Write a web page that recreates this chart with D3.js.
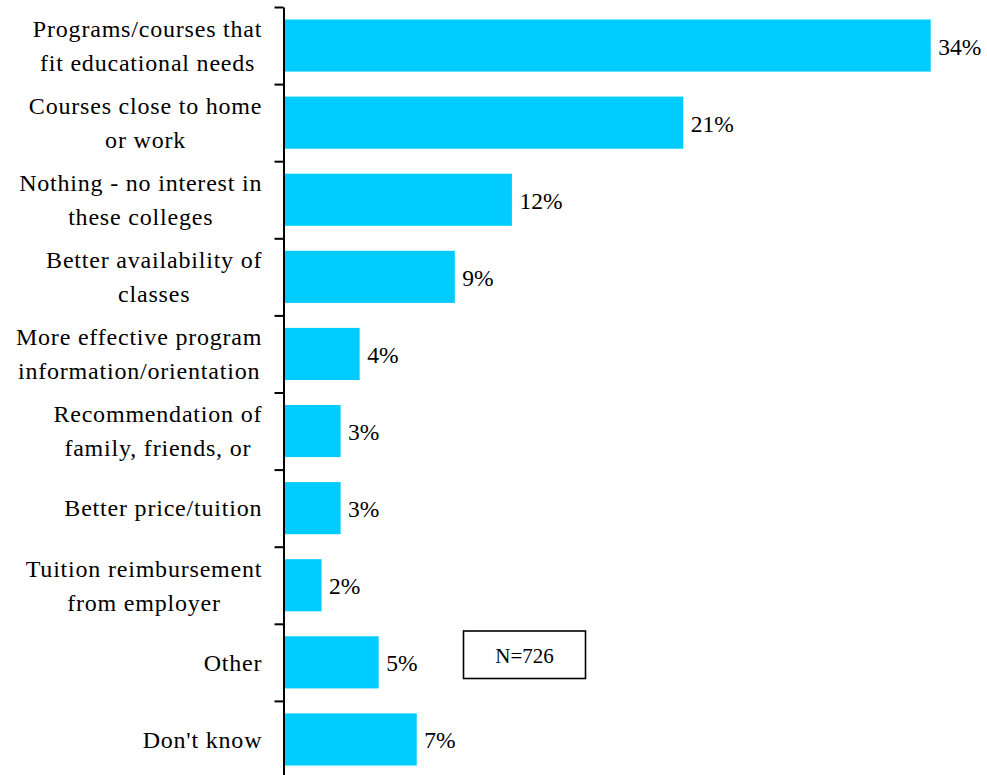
<!DOCTYPE html>
<html>
<head>
<meta charset="utf-8">
<script src="https://cdn.jsdelivr.net/npm/d3@7/dist/d3.min.js"></script>
</head>
<body style="margin:0">
<svg id="chart" width="987" height="775" font-family="Liberation Serif"></svg>
<script>
// Category labels, one entry per line of wrapped text
const categories = [
  ["Programs/courses that", "fit educational needs"],
  ["Courses close to home", "or work"],
  ["Nothing - no interest in", "these colleges"],
  ["Better availability of", "classes"],
  ["More effective program", "information/orientation"],
  ["Recommendation of", "family, friends, or"],
  ["Better price/tuition"],
  ["Tuition reimbursement", "from employer"],
  ["Other"],
  ["Don't know"]
];
// Share of respondents, percent
const values = [34, 21, 12, 9, 4, 3, 3, 2, 5, 7];
const sampleNote = "N=726";

const serifFace = "Liberation Serif";
const svg = d3.select("#chart");
const ids = d3.range(categories.length);

const axisX = 283.5;
const plotTop = 7, plotBottom = 778;

const x = d3.scaleLinear().domain([0, 34]).range([axisX, 930.7]);
const y = d3.scaleBand().domain(ids).range([plotTop, plotBottom])
  .paddingInner(0.324).paddingOuter(0.162);

// Boundary ticks between categories
const yEdge = d3.scaleLinear().domain([0, categories.length]).range([plotTop, plotBottom]);

// Bars
svg.append("g").selectAll("rect")
  .data(ids)
  .join("rect")
  .attr("x", x(0))
  .attr("y", i => y(i))
  .attr("width", i => x(values[i]) - x(0))
  .attr("height", y.bandwidth())
  .attr("fill", "#00CCFF");

// Value labels
svg.append("g").selectAll("text")
  .data(ids)
  .join("text")
  .attr("x", i => x(values[i]) + 7.5)
  .attr("y", i => y(i) + y.bandwidth() / 2 + 9)
  .attr("font-family", serifFace)
  .style("font-family", serifFace)
  .attr("font-size", "23.5px")
  .attr("fill", "#000")
  .text(i => values[i] + "%");

// Axis
const axis = svg.append("g")
  .attr("transform", `translate(${axisX},0)`)
  .call(d3.axisLeft(yEdge).tickValues(d3.range(categories.length + 1))
    .tickFormat("").tickSize(9).tickSizeOuter(0));
axis.selectAll("path, line").attr("stroke", "#000").attr("stroke-width", 2);

// Category labels: lines centred on each other, block right-aligned
const spacing = 0.8;
const labelRight = 261.5 + spacing;
const lineGap = 34;
const labels = svg.append("g");
ids.forEach(i => {
  const lines = categories[i];
  const cy = y(i) + y.bandwidth() / 2 + 8.3;
  const g = labels.append("g");
  const ts = lines.map((s, k) => g.append("text")
    .attr("font-family", serifFace)
    .style("font-family", serifFace)
    .attr("font-size", "24px")
    .attr("letter-spacing", spacing + "px")
    .attr("fill", "#000")
    .attr("text-anchor", "middle")
    .attr("y", cy + (k - (lines.length - 1) / 2) * lineGap)
    .text(s));
  const w = d3.max(ts, t => t.node().getComputedTextLength());
  ts.forEach(t => t.attr("x", labelRight - w / 2));
});

// Sample size note
const note = svg.append("g");
note.append("rect")
  .attr("x", 463.5).attr("y", 631)
  .attr("width", 122).attr("height", 47.5)
  .attr("fill", "#fff").attr("stroke", "#000").attr("stroke-width", 1.6);
note.append("text")
  .attr("x", 524.5).attr("y", 662.5)
  .attr("text-anchor", "middle")
  .attr("font-family", serifFace)
  .style("font-family", serifFace)
  .attr("font-size", "21px")
  .attr("fill", "#000")
  .text(sampleNote);
</script>
</body>
</html>
